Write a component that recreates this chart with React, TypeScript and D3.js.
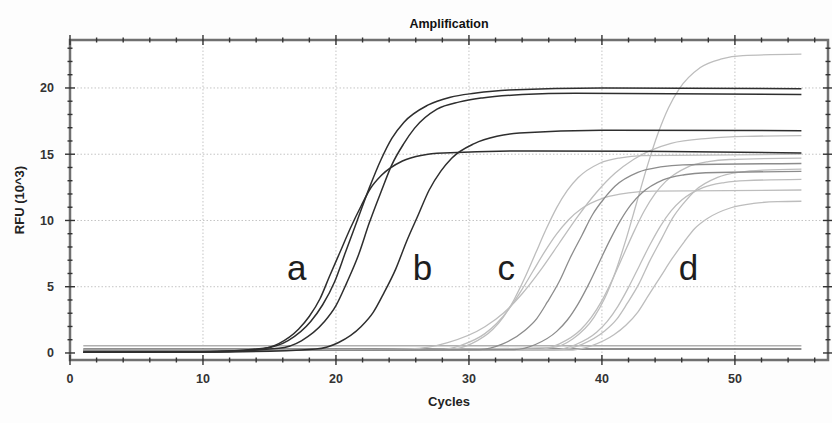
import React from 'react';
import * as d3 from 'd3';

// ---------- data ----------
const cycleTicks = [0, 10, 20, 30, 40, 50];
const rfuTicks = [0, 5, 10, 15, 20];
const titleText = 'Amplification';
const xAxisTitle = 'Cycles';
const yAxisTitle = 'RFU (10^3)';
const groupLabels = ['a', 'b', 'c', 'd'];

// dark curves (groups a, b)
const darkA15 = [[1,0.08],[10,0.1],[14.1,0.27],[15.7,0.71],[17.2,1.81],[18.0,2.77],[18.8,4.09],[19.5,5.75],[20.3,7.6],[21.1,9.45],[21.9,11.11],[22.6,12.43],[23.4,13.39],[25.0,14.49],[26.5,14.93],[28.1,15.09],[35,15.25],[45,15.2],[55,15.1]];
const darkA20 = [[1,0.05],[10,0.08],[14.6,0.36],[16.4,0.94],[18.1,2.38],[19.0,3.64],[19.9,5.38],[20.7,7.56],[21.6,10.0],[22.5,12.44],[23.4,14.62],[24.2,16.2],[25.1,17.4],[26.9,18.7],[28.6,19.3],[30.4,19.6],[33,19.85],[40,20.0],[55,19.95]];
const darkA19 = [[1,0.05],[10,0.07],[15.7,0.35],[17.4,0.92],[19.1,2.33],[20.0,3.57],[20.8,5.27],[21.7,7.41],[22.5,9.8],[23.4,12.19],[24.2,14.2],[25.1,15.8],[25.9,16.95],[27.6,18.4],[29.3,18.95],[31.0,19.25],[34,19.5],[38,19.6],[55,19.5]];
const darkB = [[1,0.05],[12,0.08],[18.5,0.3],[20.2,0.79],[21.9,2.0],[22.8,3.06],[23.6,4.52],[24.5,6.35],[25.3,8.4],[26.2,10.45],[27.0,12.28],[27.9,13.74],[28.7,14.7],[30.4,15.8],[32.1,16.35],[33.8,16.6],[40,16.8],[55,16.78]];

// light / medium curves (groups c, d)
const lightC1 = [[1,0.2],[20,0.2],[28.6,0.27],[30.2,0.71],[31.8,1.79],[32.6,2.73],[33.4,4.04],[34.2,5.67],[35.0,7.5],[35.8,9.33],[36.6,10.97],[37.4,12.27],[38.2,13.22],[39.8,14.3],[41.4,14.73],[43.0,14.9],[55,15.0]];
const lightC2 = [[1,0.2],[20,0.2],[27.6,0.22],[29.4,0.58],[31.2,1.46],[32.1,2.24],[33.0,3.31],[33.9,4.65],[34.8,6.15],[35.7,7.65],[36.6,8.99],[37.5,10.06],[38.4,10.84],[40.2,11.72],[42.0,12.08],[43.8,12.21],[55,12.3]];
const lightC3 = [[1,0.2],[20,0.22],[25.6,0.3],[28.4,0.78],[31.2,1.98],[32.6,3.02],[34.0,4.47],[35.4,6.27],[36.8,8.3],[38.2,10.33],[39.6,12.13],[41.0,13.58],[42.4,14.62],[45.2,15.82],[48.0,16.2],[50.8,16.35],[55,16.4]];
const mediumC4 = [[1,0.2],[20,0.2],[30.8,0.26],[32.5,0.67],[34.2,1.7],[35.1,2.6],[35.9,3.85],[36.8,5.41],[37.6,7.15],[38.5,8.89],[39.3,10.45],[40.2,11.7],[41.0,12.6],[42.7,13.63],[44.4,14.04],[46.1,14.2],[55,14.3]];
const mediumD1 = [[1,0.2],[20,0.2],[33.4,0.25],[35.0,0.64],[36.6,1.63],[37.4,2.49],[38.2,3.69],[39.0,5.18],[39.8,6.85],[40.6,8.52],[41.4,10.01],[42.2,11.21],[43.0,12.07],[44.6,13.06],[46.2,13.45],[47.8,13.6],[55,13.7]];
const lightD2 = [[1,0.2],[20,0.2],[36.2,0.41],[37.8,1.06],[39.4,2.69],[40.2,4.11],[41.0,6.08],[41.8,8.54],[42.6,11.3],[43.4,14.06],[44.2,16.52],[45.0,18.49],[45.8,19.91],[47.4,21.54],[49.0,22.19],[50.6,22.44],[55,22.55]];
const lightD3 = [[1,0.2],[20,0.2],[35.2,0.26],[36.8,0.69],[38.4,1.75],[39.2,2.68],[40.0,3.95],[40.8,5.56],[41.6,7.35],[42.4,9.14],[43.2,10.75],[44.0,12.02],[44.8,12.95],[46.4,14.01],[48.0,14.44],[49.6,14.6],[55,14.7]];
const lightD4 = [[1,0.2],[20,0.2],[36.4,0.24],[38.0,0.62],[39.6,1.56],[40.4,2.38],[41.2,3.52],[42.0,4.95],[42.8,6.55],[43.6,8.15],[44.4,9.58],[45.2,10.72],[46.0,11.54],[47.6,12.48],[49.2,12.86],[50.8,13.01],[55,13.1]];
const lightD5 = [[1,0.2],[20,0.2],[36.8,0.25],[38.5,0.65],[40.2,1.65],[41.1,2.53],[41.9,3.74],[42.8,5.25],[43.6,6.95],[44.5,8.65],[45.3,10.16],[46.2,11.37],[47.0,12.25],[48.7,13.25],[50.4,13.65],[52.1,13.8],[55,13.87]];
const lightD6 = [[1,0.2],[20,0.2],[37.4,0.21],[39.2,0.54],[40.9,1.37],[41.8,2.09],[42.7,3.09],[43.5,4.35],[44.4,5.75],[45.3,7.15],[46.2,8.41],[47.0,9.41],[47.9,10.13],[49.7,10.96],[51.4,11.29],[53.2,11.42],[55,11.45]];

// flat (no amplification) traces
const flatHigh = [[1,0.55],[55,0.55]];
const flatLow = [[1,0.3],[55,0.3]];

// ---------- styling / layout ----------
const W = 832, H = 423;
const L = 70, R = 828, T = 40, B = 360;
const FONT = '"Liberation Sans", Arial, sans-serif';

const series = [
  { pts: flatHigh, kind: 'flat' },
  { pts: flatLow, kind: 'flatDark' },
  { pts: lightC1, kind: 'light' },
  { pts: lightC2, kind: 'light' },
  { pts: lightC3, kind: 'light' },
  { pts: lightD2, kind: 'light' },
  { pts: lightD3, kind: 'light' },
  { pts: lightD4, kind: 'light' },
  { pts: lightD5, kind: 'light' },
  { pts: lightD6, kind: 'light' },
  { pts: mediumC4, kind: 'medium' },
  { pts: mediumD1, kind: 'medium' },
  { pts: darkA15, kind: 'dark' },
  { pts: darkA20, kind: 'dark' },
  { pts: darkA19, kind: 'dark' },
  { pts: darkB, kind: 'dark' },
];
const styles: Record<string, { stroke: string; w: number }> = {
  flat: { stroke: '#b0b0b0', w: 1.6 },
  flatDark: { stroke: '#6a6a6a', w: 1.3 },
  light: { stroke: '#bdbdbd', w: 1.3 },
  medium: { stroke: '#8c8c8c', w: 1.3 },
  dark: { stroke: '#2e2e2e', w: 1.5 },
};
const labelPos = [
  { cyc: 17.05, v: 5.5 },
  { cyc: 26.5, v: 5.5 },
  { cyc: 32.8, v: 5.5 },
  { cyc: 46.5, v: 5.5 },
];

export default function App() {
  const x = d3.scaleLinear().domain([0, 57]).range([L, R]);
  const y = d3.scaleLinear().domain([-0.53, 23.62]).range([B, T]);
  const line = d3
    .line<number[]>()
    .x((d) => x(d[0]))
    .y((d) => y(d[1]))
    .curve(d3.curveMonotoneX);

  const xMinor = d3.range(0, 57, 2);
  const yMinor = d3.range(0, 24, 1);
  const cx = (L + R) / 2;
  const cy = (T + B) / 2;

  return (
    <svg
      width={W}
      height={H}
      style={{ position: 'absolute', left: 0, top: 0, background: '#fdfdfd' }}
      fontFamily={FONT}
    >
      <rect x={0} y={0} width={W} height={H} fill="#fdfdfd" />
      <rect x={L} y={T} width={R - L} height={B - T} fill="#ffffff" />
      {/* grid */}
      {cycleTicks.filter((c) => c > 0).map((c) => (
        <line key={'gx' + c} x1={x(c)} x2={x(c)} y1={T} y2={B} stroke="#c4c4c4" strokeWidth={1} strokeDasharray="1.5,2" />
      ))}
      {rfuTicks.filter((v) => v > 0).map((v) => (
        <line key={'gy' + v} x1={L} x2={R} y1={y(v)} y2={y(v)} stroke="#c4c4c4" strokeWidth={1} strokeDasharray="1.5,2" />
      ))}
      {/* curves */}
      {series.map((s, i) => (
        <path key={i} d={line(s.pts) || ''} fill="none" stroke={styles[s.kind].stroke} strokeWidth={styles[s.kind].w} strokeLinejoin="round" />
      ))}
      {/* group letters */}
      {groupLabels.map((g, i) => (
        <text key={g} x={x(labelPos[i].cyc)} y={y(labelPos[i].v)} fontSize={35} textAnchor="middle" fill="#1e1e1e">
          {g}
        </text>
      ))}
      {/* frame */}
      <rect x={L} y={T} width={R - L} height={B - T} fill="none" stroke="#707070" strokeWidth={2.5} />
      {/* ticks on frame */}
      {xMinor.map((c) => {
        const major = c % 10 === 0;
        const h = major ? 5 : 2.5;
        return (
          <g key={'tx' + c}>
            <line x1={x(c)} x2={x(c)} y1={T - h} y2={T + h} stroke="#333" strokeWidth={1.4} />
            <line x1={x(c)} x2={x(c)} y1={B + h} y2={B - h} stroke="#333" strokeWidth={1.4} />
          </g>
        );
      })}
      {yMinor.map((v) => {
        const major = v % 5 === 0;
        const h = major ? 5 : 2.5;
        return (
          <g key={'ty' + v}>
            <line x1={L - h} x2={L + h} y1={y(v)} y2={y(v)} stroke="#333" strokeWidth={1.4} />
            <line x1={R + h} x2={R - h} y1={y(v)} y2={y(v)} stroke="#333" strokeWidth={1.4} />
          </g>
        );
      })}
      {/* tick labels */}
      {cycleTicks.map((c) => (
        <text key={'lx' + c} x={x(c)} y={383} fontSize={12.5} fontWeight="bold" textAnchor="middle" fill="#333">
          {c}
        </text>
      ))}
      {rfuTicks.map((v) => (
        <text key={'ly' + v} x={54} y={y(v) + 4.5} fontSize={12.5} fontWeight="bold" textAnchor="end" fill="#333">
          {v}
        </text>
      ))}
      {/* titles */}
      <text x={cx} y={28} fontSize={12.5} fontWeight="bold" textAnchor="middle" fill="#111">
        {titleText}
      </text>
      <text x={cx} y={406} fontSize={13} fontWeight="bold" textAnchor="middle" fill="#222">
        {xAxisTitle}
      </text>
      <text transform={`translate(24,${cy}) rotate(-90)`} fontSize={13} fontWeight="bold" textAnchor="middle" fill="#222">
        {yAxisTitle}
      </text>
    </svg>
  );
}
